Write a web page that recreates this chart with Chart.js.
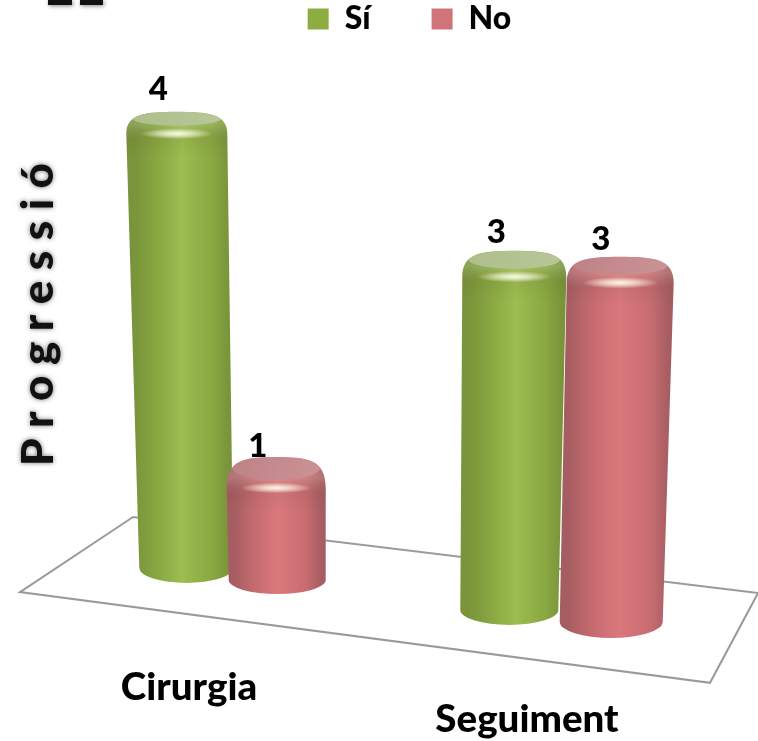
<!DOCTYPE html>
<html><head><meta charset="utf-8">
<style>html,body{margin:0;padding:0;background:#fff}canvas{display:block}</style>
<script src="https://cdn.jsdelivr.net/npm/chart.js@4"></script>
</head><body><canvas id="c" width="758" height="741"></canvas>
<script>
const categories = ['Cirurgia', 'Seguiment'];
const siValues = [4, 3];
const noValues = [1, 3];
const seriesNames = ['Sí', 'No'];
const axisTitle = 'P r o g r e s s i ó';

const FONT = 'Lato, Carlito, sans-serif';
const palette = [
  {legend:'#8dac41', edge:'#79943a', mid:'#89a842', light:'#9cbd50', face:'#b9c89a', faceDark:'#aebd8a'},
  {legend:'#d0747a', edge:'#a65d61', mid:'#c76c71', light:'#da787c', face:'#cd9598', faceDark:'#bd8185'}
];
// perspective correction per [series][category]; purely view geometry
const view = [
  [{tx:1.5,tw:50.5,bx:11,bw:47,ty:-14,by:-2,tilt:12,br:15,lg:22,lx:-18.5},
   {tx:1,tw:52,bx:-4,bw:49,ty:14,by:40,tilt:16,br:15,lg:18,lx:-18}],
  [{tx:-.5,tw:49.5,bx:.5,bw:48.5,ty:-2,by:10,tilt:21,br:14,lg:11,lx:-18.5},
   {tx:5.5,tw:53.5,bx:-3.5,bw:51.5,ty:20,by:52,tilt:16,br:16,lg:17,lx:-19.5}]
];

function cylinder(ctx, el, v, p, value){
  const top = el.y + v.ty, low = el.base + v.by;
  const cT = el.x + v.tx, cB = el.x + v.bx;
  const lT = cT - v.tw, rT = cT + v.tw, lB = cB - v.bw, rB = cB + v.bw;
  const sh = top + v.tilt + 10;
  const path = () => {
    ctx.beginPath();
    ctx.moveTo(lB, low);
    ctx.lineTo(lT, sh);
    ctx.bezierCurveTo(lT, top + 2, cT - v.tw * .62, top, cT, top);
    ctx.bezierCurveTo(cT + v.tw * .62, top, rT, top + 2, rT, sh);
    ctx.lineTo(rB, low);
    ctx.ellipse(cB, low, v.bw, v.br, 0, 0, Math.PI);
    ctx.closePath();
  };
  ctx.save();
  path();
  const g = ctx.createLinearGradient(Math.min(lT, lB), 0, Math.max(rT, rB), 0);
  g.addColorStop(0, p.edge); g.addColorStop(.07, p.edge); g.addColorStop(.3, p.mid);
  g.addColorStop(.52, p.light); g.addColorStop(.8, p.mid); g.addColorStop(.96, p.edge); g.addColorStop(1, p.edge);
  ctx.fillStyle = g; ctx.fill();
  ctx.clip();
  // bevel shade under the top face
  const b = ctx.createLinearGradient(0, top + v.tilt, 0, top + v.tilt + 34);
  b.addColorStop(0, 'rgba(255,255,255,.14)'); b.addColorStop(.45, 'rgba(80,60,40,.08)'); b.addColorStop(1, 'rgba(80,60,40,0)');
  ctx.fillStyle = b; ctx.fillRect(lT - 12, top, v.tw * 2 + 24, v.tilt + 36);
  // top face
  const f = ctx.createLinearGradient(lT, top, rT, top + v.tilt * 2);
  f.addColorStop(0, p.faceDark); f.addColorStop(1, p.face);
  ctx.fillStyle = f;
  ctx.beginPath(); ctx.ellipse(cT, top + v.tilt * .5 + 1, v.tw * .88, v.tilt * .5 + 1, 0, 0, Math.PI * 2); ctx.fill();
  // specular
  const hy = top + v.tilt + 10;
  ctx.save();
  ctx.translate(cT, hy); ctx.scale(1, .15);
  const R = v.tw * .72;
  const h = ctx.createRadialGradient(0, 0, 0, 0, 0, R);
  h.addColorStop(0, 'rgba(255,255,235,.95)'); h.addColorStop(.45, 'rgba(255,255,235,.6)'); h.addColorStop(1, 'rgba(255,255,235,0)');
  ctx.fillStyle = h; ctx.beginPath(); ctx.arc(0, 0, R, 0, Math.PI * 2); ctx.fill();
  ctx.restore();
  ctx.restore();
  // value label
  ctx.fillStyle = '#000'; ctx.font = '900 33px ' + FONT; ctx.textAlign = 'center'; ctx.textBaseline = 'middle';
  ctx.fillText(String(value), cT + v.lx, top - v.lg);
}

const cyl3d = {
  id:'cyl3d',
  beforeLayout(chart){
    const l = chart.legend;
    if(!l._wrapped){
      l._wrapped = true;
      const f = l.fit;
      l.fit = function(){ f.call(this); this.height = 0; };
    }
  },
  afterLayout(chart){
    const l = chart.legend;
    l.left = 0; l.right = 758 + 61; l.top = -58; l.bottom = 40;
    const y = chart.scales.y;
    if(!y._wrapped){
      y._wrapped = true;
      const o = y.drawTitle;
      y.drawTitle = function(){
        const c = this.ctx; c.save();
        c.shadowColor = 'rgba(0,0,0,.55)'; c.shadowBlur = 5;
        o.call(this); c.restore();
      };
    }
  },
  beforeDatasetsDraw(chart){
    const c = chart.ctx, w = chart.width, h = chart.height;
    c.save();
    // floor frame, proportional to canvas
    c.strokeStyle = '#9a9a9a'; c.lineWidth = 2; c.lineJoin = 'miter';
    c.beginPath();
    c.moveTo(w*.1755, h*.6977); c.lineTo(w*.0264, h*.799); c.lineTo(w*.9367, h*.9215); c.lineTo(w*1.0, h*.8003); c.closePath();
    c.stroke();
    // clipped fragments at the top edge of the crop
    c.shadowColor = 'rgba(0,0,0,.5)'; c.shadowBlur = 4; c.shadowOffsetX = 1; c.shadowOffsetY = 1;
    c.fillStyle = '#111';
    c.fillRect(w*.0633, 0, 24, 5); c.fillRect(w*.1055, 0, 23, 5);
    c.restore();
  },
  beforeDatasetDraw(){ return false; },
  afterDatasetsDraw(chart){
    const c = chart.ctx;
    categories.forEach((_, i) => {
      [siValues, noValues].forEach((vals, s) => {
        const el = chart.getDatasetMeta(s).data[i];
        cylinder(c, el, view[s][i], palette[s], vals[i]);
      });
    });
  }
};

new Chart(document.getElementById('c'), {
  type:'bar',
  data:{ labels:categories, datasets:[
    {label:seriesNames[0], data:siValues, backgroundColor:palette[0].legend, borderWidth:0},
    {label:seriesNames[1], data:noValues, backgroundColor:palette[1].legend, borderWidth:0}
  ]},
  plugins:[cyl3d],
  options:{
    responsive:false, animation:false, devicePixelRatio:1,
    layout:{padding:{top:59, right:25, left:0, bottom:0}},
    datasets:{bar:{categoryPercentage:.6, barPercentage:1}},
    plugins:{
      tooltip:{enabled:false},
      legend:{position:'top', align:'center', labels:{
        boxWidth:21, boxHeight:21, padding:61, color:'#000',
        font:{family:FONT, weight:'900', size:32}
      }}
    },
    scales:{
      x:{
        grid:{display:false}, border:{display:false},
        afterFit(s){ s.height = 171; },
        ticks:{
          autoSkip:false, maxRotation:0, minRotation:0, labelOffset:-37, padding:94, color:'#000',
          font:{family:FONT, weight:'900', size:38.5, lineHeight:.83},
          callback(v, i){ return i % 2 ? ['', categories[i]] : categories[i]; }
        }
      },
      y:{
        min:0, max:4.6,
        grid:{display:false}, border:{display:false},
        afterFit(s){ s.width = 57; },
        ticks:{display:false},
        title:{display:true, text:axisTitle, color:'#111', padding:{top:12,bottom:0},
          font:{family:FONT, weight:'900', size:44}}
      }
    }
  }
});
</script></body></html>
